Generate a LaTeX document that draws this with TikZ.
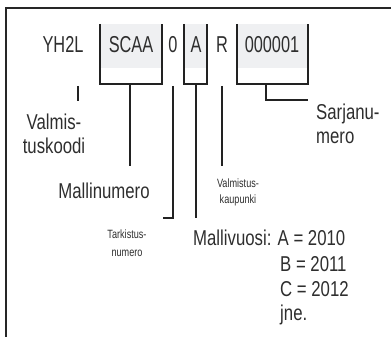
\documentclass[tikz,border=0pt]{standalone}
\usepackage{fontspec}
\setmainfont{Liberation Sans}[FakeStretch=0.78]
\newfontfamily\topf{Liberation Sans}[FakeStretch=0.71]
\newfontfamily\smallf{Liberation Sans}[FakeStretch=0.76]
\definecolor{txt}{HTML}{2E2E2E}
\definecolor{ln}{HTML}{222222}
\definecolor{boxfill}{HTML}{EFF0F2}
\begin{document}
\begin{tikzpicture}[x=1pt,y=-1pt,
  toptext/.style={font=\topf\fontsize{23}{26}\selectfont, text=txt, inner sep=0pt, anchor=base},
  big/.style={font=\fontsize{21.5}{24}\selectfont, text=txt, inner sep=0pt, anchor=base},
  bigw/.style={big, anchor=base west},
  small/.style={font=\smallf\fontsize{12}{14}\selectfont, text=txt, inner sep=0pt, anchor=base},
  line/.style={draw=ln, line width=2pt},
  frame/.style={draw=black!85, line width=2.4pt}]
\useasboundingbox (0,0) rectangle (391,337);
% frame
\coordinate (fr1) at (391,8);
\coordinate (fr2) at (6,8);
\coordinate (fr3) at (6,337);
\draw[frame] (fr1) -- (fr2) -- (fr3);
% boxes
\fill[boxfill] (100,24) rectangle (162,68);
\fill[boxfill] (184,24) rectangle (207,68);
\fill[boxfill] (237,24) rectangle (308,68);
\draw[line] (100,24) -- (100,84) -- (162,84) -- (162,24);
\draw[line] (184,24) -- (184,84) -- (207,84) -- (207,24);
\draw[line] (237,24) -- (237,84) -- (308,84) -- (308,24);
% top row texts
\node[toptext] (yh) at (63,53) {YH2L};
\node[toptext] (scaa) at (131,53) {SCAA};
\node[toptext] (zero) at (173,53) {0};
\node[toptext] (a) at (196,53) {A};
\node[toptext] (r) at (222,53) {R};
\node[toptext] (ser) at (272,53) {000001};
% labels
\node[big] (valm1) at (54,129) {Valmis-};
\node[big] (valm2) at (54,153) {tuskoodi};
\node[big] (malli) at (104,198) {Mallinumero};
\node[small] (tark1) at (127,238) {Tarkistus-};
\node[small] (tark2) at (127,256) {numero};
\node[small] (kaup1) at (238,187) {Valmistus-};
\node[small] (kaup2) at (238,203) {kaupunki};
\node[bigw] (sarja1) at (316,119) {Sarjanu-};
\node[bigw] (sarja2) at (316,143) {mero};
\node[bigw] (vuosi) at (193,245) {Mallivuosi: A = 2010};
\node[bigw] (vb) at (280,271) {B = 2011};
\node[bigw] (vc) at (280,296) {C = 2012};
\node[bigw] (vj) at (280,320) {jne.};
% connector coordinates
\coordinate (c0a) at (78,86);   \coordinate (c0b) at (78,101);
\coordinate (c1a) at (130,84);  \coordinate (c1b) at (130,166);
\coordinate (c2a) at (173,86);  \coordinate (c2b) at (163,218);
\coordinate (c3a) at (196,84);  \coordinate (c3b) at (196,218);
\coordinate (c4a) at (222,86);  \coordinate (c4b) at (222,166);
\coordinate (c5a) at (266,84);  \coordinate (c5b) at (308,100);
\draw[line] (c0a) -- (c0b);
\draw[line] (c1a) -- (c1b);
\draw[line] (c2a) |- (c2b);
\draw[line] (c3a) -- (c3b);
\draw[line] (c4a) -- (c4b);
\draw[line] (c5a) |- (c5b);
\end{tikzpicture}
\end{document}
